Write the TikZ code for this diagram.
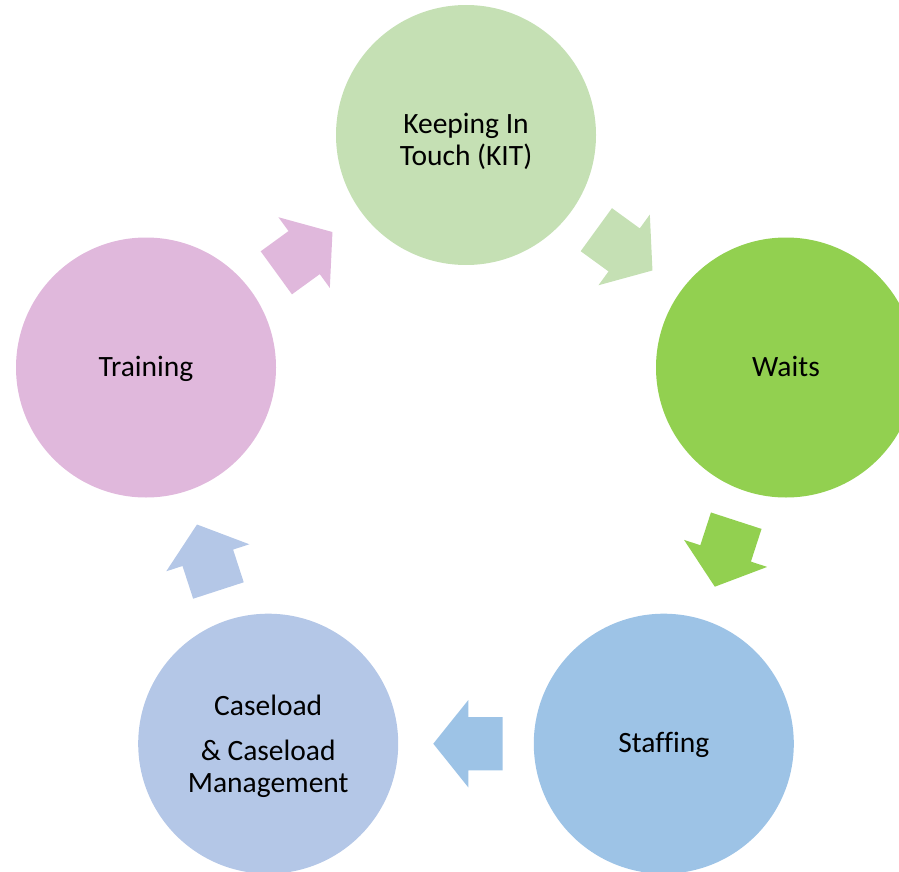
\documentclass[tikz,border=0pt]{standalone}
\usepackage{fontspec}
\setmainfont[Ligatures=NoCommon]{Carlito}
\usetikzlibrary{calc}
\definecolor{kitc}{HTML}{C5E0B4}
\definecolor{waitc}{HTML}{92D050}
\definecolor{staffc}{HTML}{9DC3E6}
\definecolor{casec}{HTML}{B4C7E7}
\definecolor{trainc}{HTML}{E0B8DC}
% point at (along, lateral) in the frame of the current arrow
\newcommand{\AP}[2]{({\x2+(#1)*(\x1/\n1)-(#2)*(\y1/\n1)},{\y2+(#1)*(\y1/\n1)+(#2)*(\x1/\n1)})}
% block arrow between two named nodes
\newcommand{\cyclearrow}[3]{%
  \fill[#3] let \p1=($(#2)-(#1)$), \p2=($(#1)!0.5!(#2)$), \n1={veclen(\x1,\y1)} in
    \AP{-36.7}{-26.6} -- \AP{-2.3}{-26.6} -- \AP{-2.3}{-43.7} -- \AP{32.7}{0}
    -- \AP{-2.3}{43.7} -- \AP{-2.3}{26.6} -- \AP{-36.7}{26.6} -- cycle;}
\newcommand{\linestrut}{\rule[-7pt]{0pt}{31pt}}
\begin{document}
\begin{tikzpicture}[x=1pt,y=-1pt,
  stage/.style={circle, minimum size=260pt, inner sep=0pt, align=center,
    font=\fontsize{29.5}{32}\selectfont, text=black,
    execute at begin node=\linestrut, execute at end node=\linestrut}]
\clip (0,0) rectangle (899,872);
\useasboundingbox (0,0) rectangle (899,872);
\node[stage, fill=kitc]   (kit)   at (466,135)     {\rule{0pt}{36pt}Keeping In\\Touch (KIT)};
\node[stage, fill=waitc]  (waits) at (786,367.5)   {Waits};
\node[stage, fill=staffc] (staff) at (663.8,743.7) {Staffing};
\node[stage, fill=casec]  (case)  at (268.2,743.7) {\rule{0pt}{28pt}Caseload\\[13pt]\& Caseload\\Management};
\node[stage, fill=trainc] (train) at (146,367.5)   {Training};
\cyclearrow{kit}{waits}{kitc}
\cyclearrow{waits}{staff}{waitc}
\cyclearrow{staff}{case}{staffc}
\cyclearrow{case}{train}{casec}
\cyclearrow{train}{kit}{trainc}
\end{tikzpicture}
\end{document}
